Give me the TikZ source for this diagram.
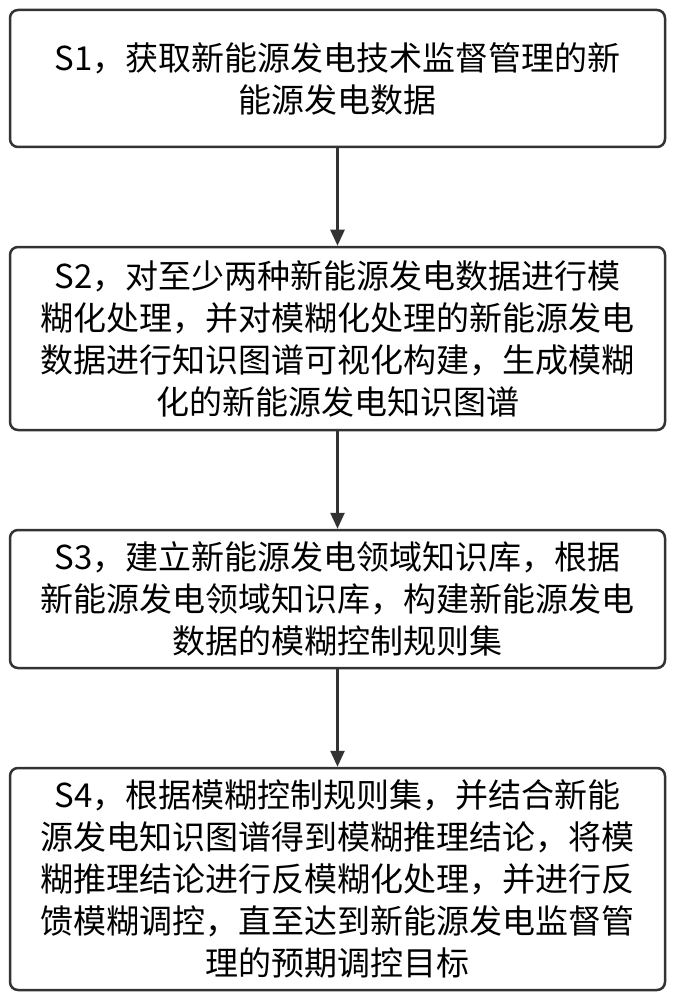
\documentclass[tikz,border=0pt]{standalone}
\usepackage{fontspec}
\setmainfont{Noto Sans CJK SC}
\usetikzlibrary{arrows.meta}
\begin{document}
\begin{tikzpicture}[x=1pt,y=-1pt,
  stepbox/.style={draw=black!80,line width=2.5pt,rounded corners=8pt,fill=white,
    minimum width=655pt,text width=640pt,align=center,inner sep=0pt,
    font=\fontsize{33}{42}\selectfont},
  arr/.style={draw=black!80,line width=2.5pt,-{Triangle[length=16pt,width=14pt]}}]
\useasboundingbox (0,0) rectangle (673,1000);
\node[stepbox,minimum height=137pt] (s1) at (337.5,78.5) {S1，获取新能源发电技术监督管理的新\\能源发电数据};
\node[stepbox,minimum height=183pt] (s2) at (337.5,338.5) {S2，对至少两种新能源发电数据进行模\\糊化处理，并对模糊化处理的新能源发电\\数据进行知识图谱可视化构建，生成模糊\\化的新能源发电知识图谱};
\node[stepbox,minimum height=138pt] (s3) at (337.5,599) {S3，建立新能源发电领域知识库，根据\\新能源发电领域知识库，构建新能源发电\\数据的模糊控制规则集};
\node[stepbox,minimum height=222pt] (s4) at (337.5,879) {S4，根据模糊控制规则集，并结合新能\\源发电知识图谱得到模糊推理结论，将模\\糊推理结论进行反模糊化处理，并进行反\\馈模糊调控，直至达到新能源发电监督管\\理的预期调控目标};
\draw[arr] (s1.south) -- (s2.north);
\draw[arr] (s2.south) -- (s3.north);
\draw[arr] (s3.south) -- (s4.north);
\end{tikzpicture}
\end{document}
